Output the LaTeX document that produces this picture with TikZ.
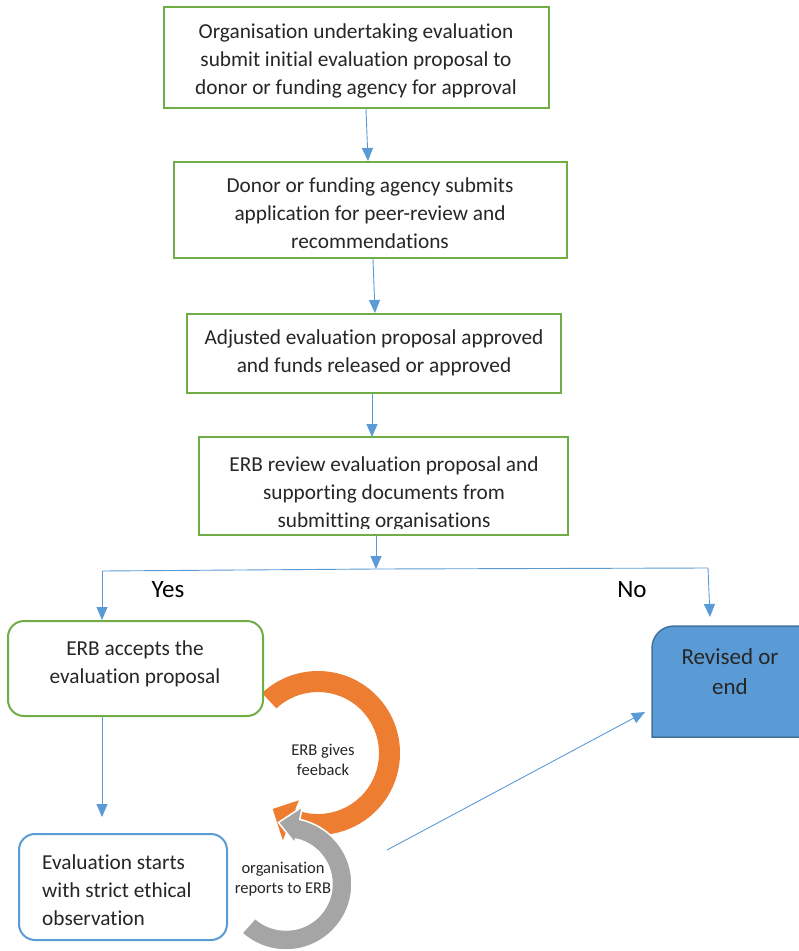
\documentclass[tikz,border=0pt]{standalone}
\usepackage{fontspec}
\setmainfont{Carlito}[RawFeature=-liga]
\usetikzlibrary{arrows.meta,calc}
\definecolor{boxgreen}{HTML}{70AD47}
\definecolor{flowblue}{HTML}{5B9BD5}
\definecolor{darkblue}{HTML}{41719C}
\definecolor{loopor}{HTML}{ED7D31}
\definecolor{loopgr}{HTML}{A5A5A5}
\definecolor{ink}{HTML}{262626}

\begin{document}
\begin{tikzpicture}[x=1pt,y=-1pt,
  stepbox/.style={draw=boxgreen, line width=2pt, fill=white, inner sep=0pt, rectangle},
  roundbox/.style={stepbox, rounded corners=16pt},
  body/.style={text=ink, font=\fontsize{21.3}{28}\selectfont, align=center, inner sep=0pt},
  small/.style={text=ink, font=\fontsize{16.5}{20}\selectfont, align=center, inner sep=0pt},
  answer/.style={text=black, font=\fontsize{25}{28}\selectfont, inner sep=0pt},
  conn/.style={draw=flowblue, line width=0.9pt, -{Triangle[length=13pt,width=11pt]}},
  wire/.style={draw=flowblue, line width=0.9pt},
]
\path[use as bounding box] (0,0) rectangle (799,951);
\clip (0,0) rectangle (799,951);

% ---- main chain of steps ----
\node[stepbox, minimum width=385pt, minimum height=101pt] (b1) at (356.5,57.5) {};
\node[body] (t1) at (356,61) {Organisation undertaking evaluation\\submit initial evaluation proposal to\\donor or funding agency for approval};

\node[stepbox, minimum width=393pt, minimum height=96pt] (b2) at (370.5,210) {};
\node[body] (t2) at (370,213) {Donor or funding agency submits\\application for peer-review and\\recommendations};

\node[stepbox, minimum width=374pt, minimum height=79pt] (b3) at (374,353.5) {};
\node[body] (t3) at (374,353) {Adjusted evaluation proposal approved\\and funds released or approved};

% the last review box cuts off the bottom of its own text
\node[stepbox, draw=none, minimum width=367pt, minimum height=96pt] (b4) at (383.5,486) {};
\begin{scope}
  \clip (b4.north west) rectangle ($(b4.south east)+(0,-7)$);
  \node[body] (t4) at (384,494) {ERB review evaluation proposal and\\supporting documents from\\submitting organisations};
\end{scope}
\draw[boxgreen, line width=2pt] (b4.south west) rectangle (b4.north east);

\draw[conn] (366,0 |- b1.south) -- (368,0 |- b2.north);
\draw[conn] (373,0 |- b2.south) -- (375,0 |- b3.north);
\draw[conn] (372,0 |- b3.south) -- (372,0 |- b4.north);

% ---- decision split ----
\coordinate (split) at (376,569);
\coordinate (yesend) at (102,571);
\coordinate (noend) at (708,568);
\draw[conn] (376,0 |- b4.south) -- (split);
\draw[wire] (yesend) -- (split) -- (noend);

\node[answer] (yes) at (168,590) {Yes};
\node[answer] (no) at (632,590) {No};

% ---- feedback loop arrows ----
\begin{scope}[shift={(318,753)}, y=1pt]
  \fill[loopor] (133:82) arc[start angle=133, end angle=-112, radius=82]
    -- (-112:94) -- (-129:72) -- (-112:51) -- (-112:61)
    arc[start angle=-112, end angle=133, radius=61] -- cycle;
\end{scope}
\begin{scope}[shift={(286,884)}, y=1pt]
  \filldraw[fill=loopgr, draw=white, line width=1.5pt] (-132:66) arc[start angle=-132, end angle=78, radius=66]
    -- (78:79) -- (97:62) -- (78:42) -- (78:46)
    arc[start angle=78, end angle=-132, radius=46] -- cycle;
\end{scope}
\node[small] (fbtext) at (323,760) {ERB gives\\feeback};
\node[small] (reptext) at (283,879) {organisation\\reports to ERB};

% ---- outcome boxes ----
\node[roundbox, minimum width=255pt, minimum height=95pt] (acc) at (135.5,668.5) {};
\node[body] (tacc) at (135,664) {ERB accepts the\\evaluation proposal};

\node[roundbox, draw=flowblue, minimum width=208pt, minimum height=106pt] (eval) at (123,887) {};
\node[body, align=left, anchor=west] (teval) at (42,890) {Evaluation starts\\with strict ethical\\observation};

\draw[darkblue, fill=flowblue, line width=1.5pt]
  (652,737) -- (652,648) arc[start angle=180, end angle=270, radius=22] -- (812,626) -- (812,737) -- cycle;
\coordinate (revtop) at (710,626);
\node[text=ink, font=\fontsize{23}{30}\selectfont, align=center, inner sep=0pt] (rev) at (730,672) {Revised or\\end};

\draw[conn] (yesend) -- (102,0 |- acc.north);
\draw[conn] (noend) -- ($(revtop)+(0,-9)$);
\draw[conn] (102,0 |- acc.south) -- ($(102,0 |- eval.north)+(0,-16)$);

\coordinate (fbstart) at (387,850);
\coordinate (revin) at (645,712);
\draw[conn] (fbstart) -- (revin);
\end{tikzpicture}
\end{document}
